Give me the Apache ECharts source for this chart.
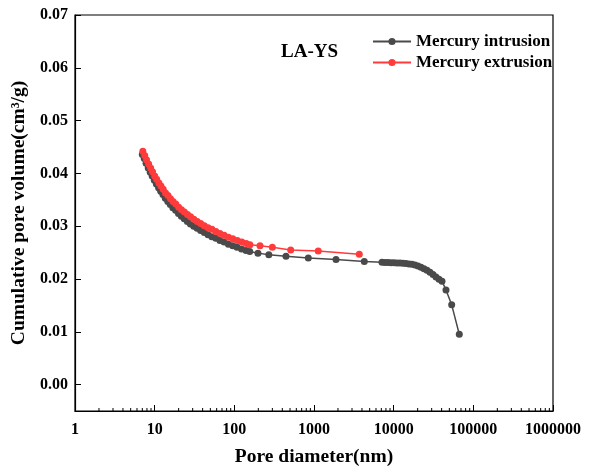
<!DOCTYPE html>
<html>
<head>
<meta charset="utf-8">
<title>LA-YS mercury intrusion</title>
<script src="https://cdn.jsdelivr.net/npm/echarts@6/dist/echarts.min.js"></script>
<style>
  html, body { margin: 0; padding: 0; background: #fff; }
  #chart { width: 600px; height: 472px; }
</style>
</head>
<body>
<div id="chart"></div>
<script>
// pore diameter (nm) / cumulative pore volume (cm3/g)
const intrusionDiameter = [7.0, 7.4, 7.8, 8.3, 8.8, 9.3, 9.9, 10.5, 11.2, 11.9, 12.7, 13.6, 14.6, 15.7, 16.9, 18.3, 19.9, 21.6, 23.5, 25.7, 28.1, 30.9, 34.1, 37.7, 41.9, 46.7, 52.2, 58.6, 65.9, 74.4, 84.2, 95.6, 108, 123, 140, 156,
  198, 271, 445, 848, 1890, 4280,
  7135, 7780, 8485, 9255, 10090, 11010, 12000, 13090, 14280, 15570, 16980, 18520, 20200, 22030, 24030, 26200, 28580, 31170, 33990, 37070, 40430,
  45380, 53490, 66640]
const intrusionVolume = [0.0436, 0.0428, 0.0419, 0.0410, 0.0402, 0.0395, 0.0387, 0.0380, 0.0373, 0.0366, 0.0360, 0.0353, 0.0347, 0.0341, 0.0335, 0.0330, 0.0324, 0.0319, 0.0314, 0.0309, 0.0304, 0.0300, 0.0296, 0.0292, 0.0288, 0.0284, 0.0280, 0.0277, 0.0273, 0.0270, 0.0266, 0.0263, 0.0260, 0.0257, 0.0254, 0.0252,
  0.0249, 0.0246, 0.0243, 0.0240, 0.0237, 0.0233,
  0.02315, 0.02313, 0.02311, 0.02309, 0.02307, 0.02305, 0.02301, 0.02298, 0.02294, 0.02286, 0.02277, 0.02264, 0.02247, 0.02224, 0.02196, 0.02164, 0.02126, 0.02085, 0.02040, 0.01995, 0.01957,
  0.01793, 0.01511, 0.00954]

const extrusionDiameter = [7.1, 7.5, 7.9, 8.4, 8.9, 9.4, 10.0, 10.6, 11.3, 12.0, 12.8, 13.7, 14.7, 15.8, 17.0, 18.4, 20.0, 21.7, 23.6, 25.8, 28.2, 31.0, 34.2, 37.8, 42.0, 46.8, 52.3, 58.7, 66.0, 74.5, 84.3, 95.7, 109, 124, 141, 157,
  210, 300, 510, 1130, 3700]
const extrusionVolume = [0.0442, 0.0434, 0.0426, 0.0418, 0.0410, 0.0403, 0.0395, 0.0389, 0.0382, 0.0376, 0.0370, 0.0363, 0.0358, 0.0352, 0.0347, 0.0342, 0.0336, 0.0331, 0.0327, 0.0322, 0.0318, 0.0313, 0.0309, 0.0305, 0.0301, 0.0297, 0.0294, 0.0290, 0.0286, 0.0283, 0.0279, 0.0276, 0.0273, 0.0270, 0.0267, 0.0265,
  0.0263, 0.0260, 0.0255, 0.0253, 0.0247]

const seriesNames = ['Mercury intrusion', 'Mercury extrusion']

// log minor ticks 2..9 in every decade
const xMinorTicks = []
for (let d = 1; d < 1e6; d *= 10) {
  for (let k = 2; k <= 9; k++) xMinorTicks.push(k * d)
}

const FONT = 'Liberation Serif, Times New Roman, serif'
const yMin = -0.005

const chart = echarts.init(document.getElementById('chart'))

chart.setOption({
  animation: false,
  backgroundColor: '#fff',
  title: {
    text: 'LA-YS',
    left: 276,
    top: 38,
    textStyle: { fontFamily: FONT, fontWeight: 'bold', fontSize: 19, color: '#000' }
  },
  legend: {
    data: seriesNames,
    orient: 'vertical',
    left: 367,
    top: 28,
    itemWidth: 38,
    itemHeight: 9,
    itemGap: 4,
    textStyle: { fontFamily: FONT, fontWeight: 'bold', fontSize: 17, color: '#000' }
  },
  grid: {
    left: 75,
    right: 47,
    top: 15,
    bottom: 59,
    show: true,
    borderColor: '#000',
    borderWidth: 1.2
  },
  xAxis: {
    type: 'log',
    logBase: 10,
    min: 1,
    max: 1000000,
    name: 'Pore diameter(nm)',
    nameLocation: 'middle',
    nameGap: 36,
    nameTextStyle: { fontFamily: FONT, fontWeight: 'bold', fontSize: 19.5, color: '#000' },
    axisLine: { onZero: false, lineStyle: { color: '#000', width: 1.2 } },
    axisTick: { inside: true, length: 6, lineStyle: { color: '#000' } },
    splitLine: { show: false },
    axisLabel: {
      color: '#000',
      fontFamily: FONT,
      fontWeight: 'bold',
      fontSize: 16,
      margin: 11,
      formatter: v => String(Math.round(v))
    }
  },
  yAxis: {
    type: 'value',
    min: yMin,
    max: 0.07,
    splitNumber: 7,
    name: 'Cumulative pore volume(cm³/g)',
    nameLocation: 'middle',
    nameGap: 46,
    nameTextStyle: { fontFamily: FONT, fontWeight: 'bold', fontSize: 19.5, color: '#000' },
    axisLine: { show: true, onZero: false, lineStyle: { color: '#000', width: 1.2 } },
    axisTick: { show: true, inside: true, length: 6, lineStyle: { color: '#000' } },
    splitLine: { show: false },
    axisLabel: {
      color: '#000',
      fontFamily: FONT,
      fontWeight: 'bold',
      fontSize: 16,
      margin: 7,
      formatter: v => (v < 0 ? '' : v.toFixed(2))
    }
  },
  series: [
    {
      name: seriesNames[0],
      type: 'line',
      data: intrusionDiameter.map((d, i) => [d, intrusionVolume[i]]),
      symbol: 'circle',
      symbolSize: 7,
      lineStyle: { color: '#4a4a4a', width: 1.5 },
      itemStyle: { color: '#4a4a4a' },
      z: 3
    },
    {
      name: seriesNames[1],
      type: 'line',
      data: extrusionDiameter.map((d, i) => [d, extrusionVolume[i]]),
      symbol: 'circle',
      symbolSize: 7,
      lineStyle: { color: '#ff3b3b', width: 1.5 },
      itemStyle: { color: '#ff3b3b' },
      z: 4
    },
    {
      // minor ticks of the log axis
      type: 'custom',
      silent: true,
      z: 5,
      data: xMinorTicks.map(v => [v, yMin]),
      renderItem: (params, api) => {
        const p = api.coord([api.value(0), api.value(1)])
        return {
          type: 'line',
          shape: { x1: p[0], y1: p[1], x2: p[0], y2: p[1] - 3 },
          style: { stroke: '#000', lineWidth: 1 }
        }
      }
    }
  ]
})
</script>
</body>
</html>
